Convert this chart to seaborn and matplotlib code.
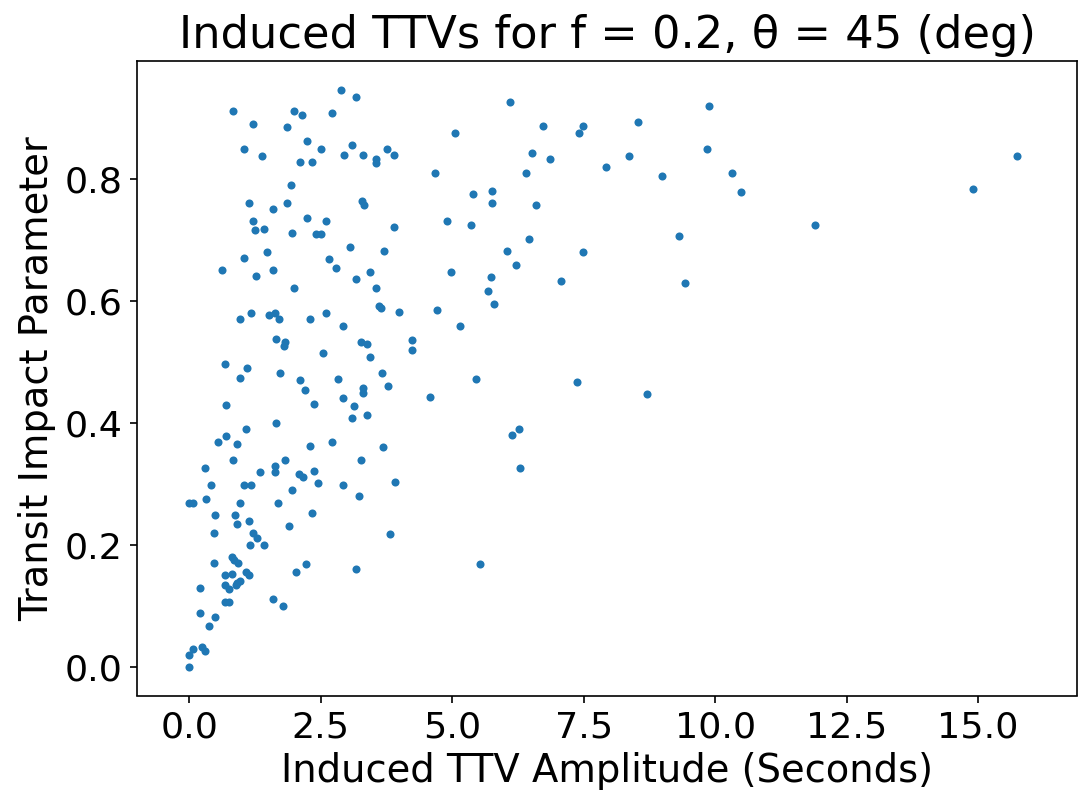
import matplotlib
matplotlib.use("Agg")
import matplotlib.pyplot as plt
import seaborn as sns
import pandas as pd

# Induced TTV amplitude (seconds)
ttv_amplitude = [
    0.83, 1.99, 2.14, 2.72, 1.21, 1.86, 2.24, 1.04, 2.51, 1.38, 2.10, 2.33,
    1.93, 1.14, 1.59, 1.86, 1.21, 2.24, 2.60, 1.24, 1.42, 1.96, 2.41, 2.50,
    1.04, 1.48, 2.66, 0.63, 1.27, 1.59, 1.99, 0.97, 1.18, 1.52, 1.62, 1.70,
    2.30, 2.60, 1.65, 1.82, 1.80, 2.54, 0.67, 1.10, 0.97, 1.72, 2.10, 2.20,
    0.69, 2.37, 1.65, 1.07, 0.70, 0.55, 0.90, 2.72, 2.30, 0.83, 1.82, 0.29,
    1.62, 1.62, 1.34, 2.09, 2.17, 2.37, 0.42, 1.03, 1.18, 2.45, 1.96, 0.00,
    0.07, 0.32, 0.97, 1.69, 0.49, 0.87, 2.33, 0.90, 1.14, 1.90, 0.46, 1.21,
    1.28, 1.16, 1.42, 0.46, 0.81, 0.84, 0.93, 0.67, 0.81, 1.07, 1.14, 0.67,
    0.76, 0.88, 0.96, 0.91, 0.21, 0.67, 0.76, 1.59, 1.79, 2.03, 2.21, 0.21,
    0.49, 0.38, 0.00, 0.07, 0.24, 0.30, 0.00,
    2.89, 3.16, 6.10, 5.05, 3.09, 2.95, 3.30, 3.54, 3.54, 3.75, 3.89, 4.67,
    5.39, 5.76, 5.76, 3.29, 3.33, 3.89, 4.90, 5.36,
    3.06, 3.71, 2.78, 3.44, 3.16, 3.54, 3.61, 3.65, 3.99, 2.92, 3.26, 3.37,
    4.23, 4.23, 3.44, 4.97, 4.70, 5.15, 6.04, 6.21, 5.73, 5.67, 5.79, 2.83,
    3.67, 3.30, 3.30, 3.78, 5.45,
    2.92, 3.13, 3.09, 3.37, 4.57, 3.68, 3.26, 2.92, 3.92, 3.23, 3.81, 3.16,
    5.53, 6.14, 6.27, 6.29,
    6.72, 7.48, 7.41, 8.54, 9.88, 6.52, 6.86, 8.37, 9.84, 6.41, 7.92, 8.98,
    10.32, 10.49, 6.59, 9.32, 6.45, 7.48,
    7.07, 9.43, 7.38, 8.71,
    11.90, 14.91, 15.73,
]

# Transit impact parameter
impact_parameter = [
    0.912, 0.912, 0.906, 0.909, 0.891, 0.885, 0.862, 0.850, 0.850, 0.838, 0.828, 0.828,
    0.790, 0.761, 0.752, 0.761, 0.731, 0.736, 0.731, 0.717, 0.719, 0.711, 0.710, 0.710,
    0.671, 0.680, 0.669, 0.651, 0.642, 0.651, 0.622, 0.571, 0.581, 0.577, 0.581, 0.571,
    0.571, 0.581, 0.538, 0.533, 0.526, 0.515, 0.497, 0.491, 0.474, 0.482, 0.471, 0.454,
    0.429, 0.432, 0.400, 0.391, 0.379, 0.369, 0.366, 0.369, 0.363, 0.340, 0.340, 0.326,
    0.329, 0.319, 0.319, 0.317, 0.311, 0.322, 0.299, 0.299, 0.299, 0.302, 0.290, 0.269,
    0.269, 0.275, 0.269, 0.269, 0.249, 0.249, 0.252, 0.234, 0.240, 0.231, 0.219, 0.219,
    0.212, 0.200, 0.200, 0.171, 0.181, 0.175, 0.171, 0.151, 0.153, 0.156, 0.151, 0.134,
    0.127, 0.134, 0.141, 0.138, 0.130, 0.106, 0.106, 0.112, 0.100, 0.156, 0.169, 0.089,
    0.082, 0.067, 0.020, 0.029, 0.033, 0.026, 0.000,
    0.947, 0.935, 0.926, 0.876, 0.856, 0.840, 0.840, 0.834, 0.826, 0.850, 0.840, 0.811,
    0.776, 0.781, 0.761, 0.765, 0.758, 0.722, 0.731, 0.725,
    0.689, 0.683, 0.654, 0.648, 0.636, 0.621, 0.592, 0.588, 0.583, 0.559, 0.533, 0.529,
    0.536, 0.520, 0.509, 0.648, 0.586, 0.559, 0.683, 0.660, 0.639, 0.616, 0.595, 0.473,
    0.482, 0.457, 0.450, 0.460, 0.473,
    0.441, 0.428, 0.408, 0.414, 0.443, 0.361, 0.340, 0.299, 0.304, 0.281, 0.218, 0.160,
    0.168, 0.381, 0.391, 0.326,
    0.888, 0.888, 0.876, 0.894, 0.920, 0.843, 0.834, 0.838, 0.850, 0.811, 0.820, 0.805,
    0.811, 0.779, 0.758, 0.707, 0.702, 0.681,
    0.633, 0.630, 0.467, 0.447,
    0.725, 0.784, 0.838,
]

title_text = "Induced TTVs for f = 0.2, \u03b8 = 45 (deg)"
x_label = "Induced TTV Amplitude (Seconds)"
y_label = "Transit Impact Parameter"

df = pd.DataFrame({"amp": ttv_amplitude, "b": impact_parameter})

dpi = 150
fig = plt.figure(figsize=(1079 / dpi, 797 / dpi), dpi=dpi)
ax = fig.add_axes([137.3 / 1079, 1 - 695.5 / 797, (1077 - 137.3) / 1079, (695.5 - 61) / 797])

sns.scatterplot(data=df, x="amp", y="b", ax=ax, s=15, linewidth=0, color="#1f77b4")

ax.set_xlim(-0.99, 16.88)
ax.set_ylim(-0.047, 0.994)
ax.set_xticks([0, 2.5, 5, 7.5, 10, 12.5, 15])
ax.set_yticks([0.0, 0.2, 0.4, 0.6, 0.8])
ax.tick_params(labelsize=17.5)
ax.set_xlabel(x_label, fontsize=18.5)
ax.set_ylabel(y_label, fontsize=18.5)
ax.set_title(title_text, fontsize=21.5)

fig.savefig("out.png", dpi=dpi)
